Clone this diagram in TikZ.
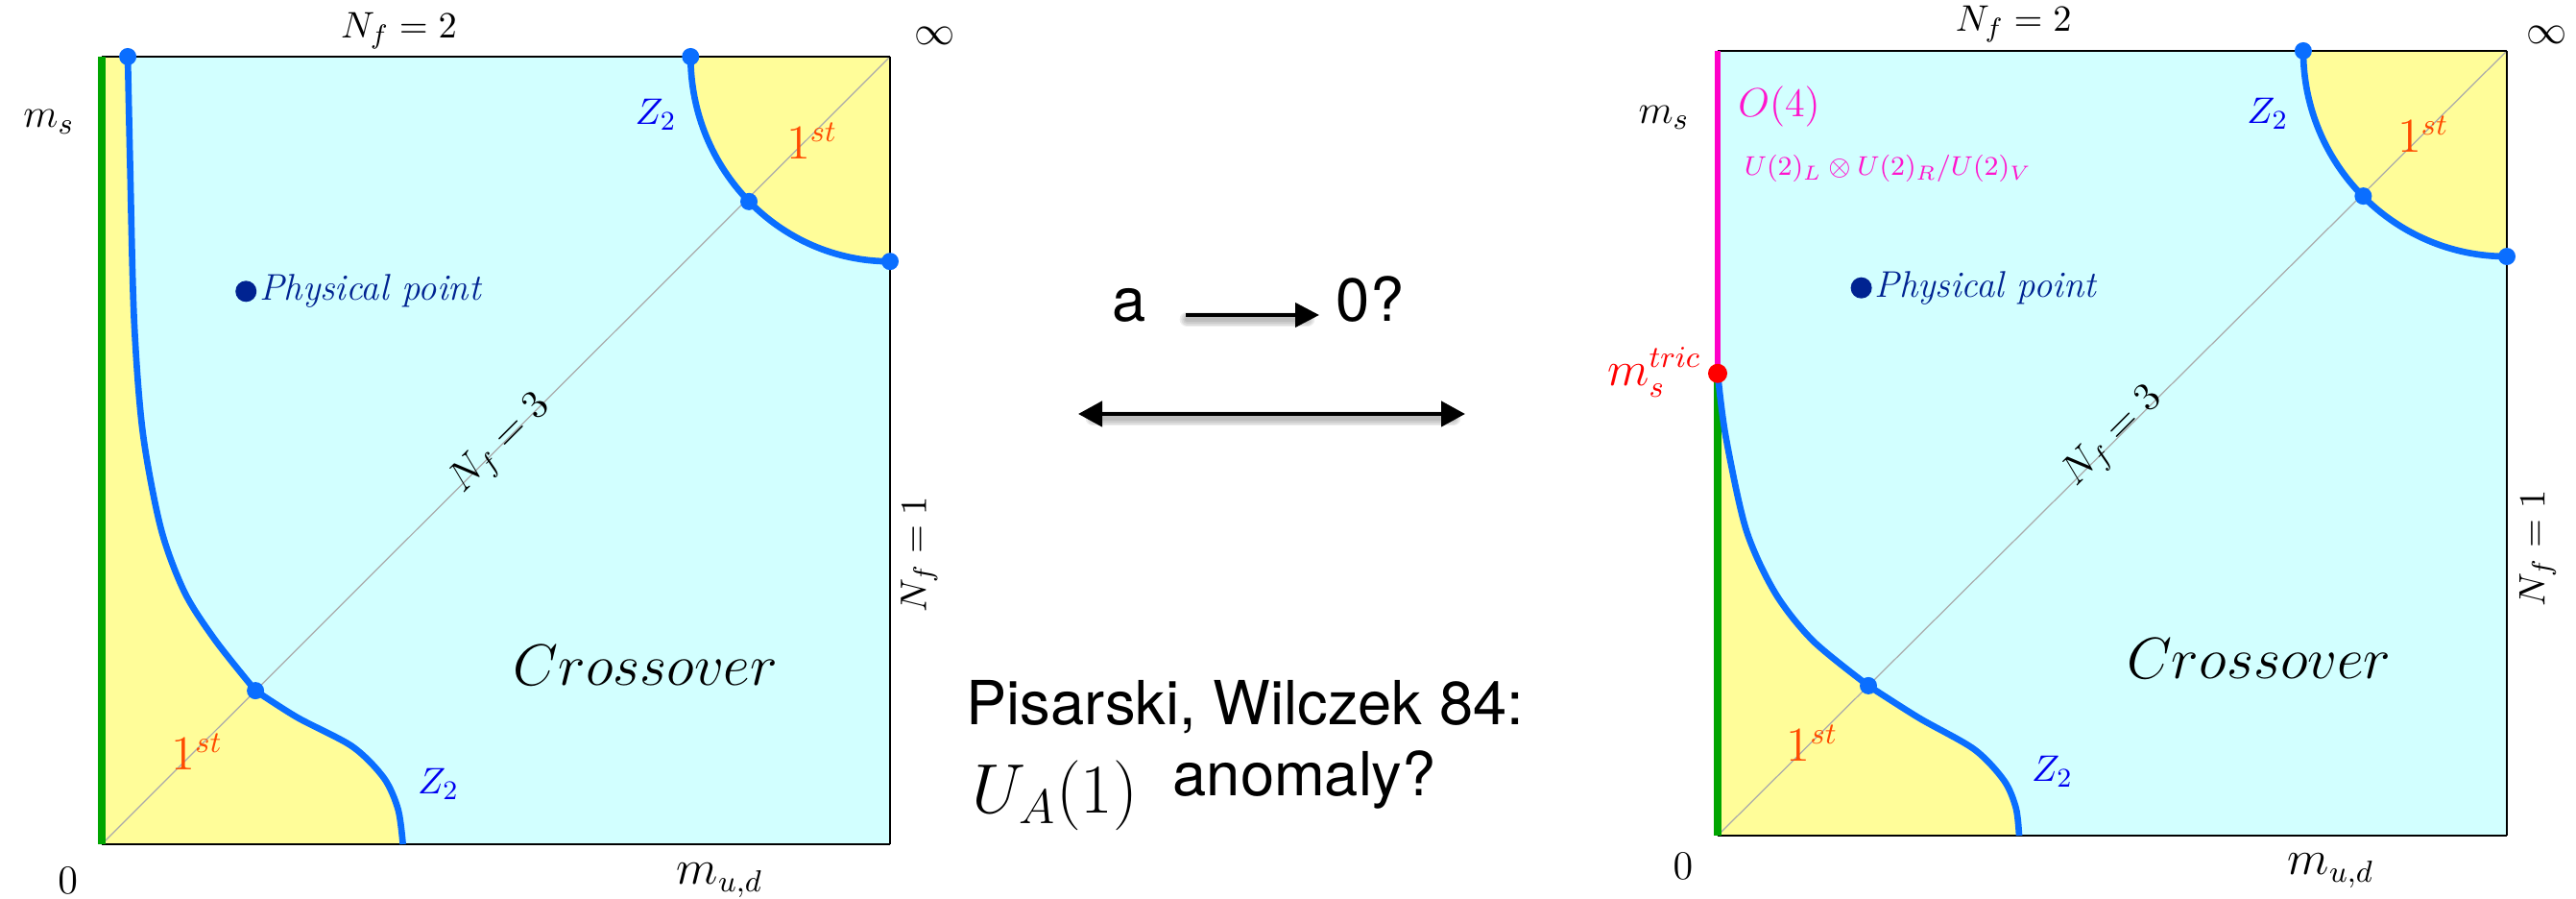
\documentclass[tikz,border=0pt]{standalone}
\usepackage{fontspec}
\newfontfamily\helv{TeX Gyre Heros}
\usetikzlibrary{arrows.meta}
\definecolor{cyanbg}{RGB}{210,255,255}
\definecolor{yel}{RGB}{255,253,153}
\definecolor{zblue}{RGB}{10,110,255}
\definecolor{grn}{RGB}{0,165,0}
\definecolor{mag}{RGB}{255,0,200}
\definecolor{magt}{RGB}{255,20,205}
\definecolor{navy}{RGB}{0,35,145}
\definecolor{orng}{RGB}{255,75,0}
\definecolor{ztext}{RGB}{0,0,240}
\definecolor{diagc}{RGB}{170,170,170}
\tikzset{
  curve/.style={zblue, line width=1.9pt},
  bdot/.style={circle, fill=zblue, inner sep=0pt, minimum size=0.18cm},
  pdot/.style={circle, fill=navy, inner sep=0pt, minimum size=0.22cm},
  rdot/.style={circle, fill=red, inner sep=0pt, minimum size=0.2cm},
  diagline/.style={diagc, line width=0.35pt},
  edgeline/.style={black, line width=0.7pt},
  redge/.style={black, line width=0.5pt},
  lab/.style={inner sep=0pt, font=\fontsize{11}{13}\selectfont},
  biglab/.style={inner sep=0pt, font=\fontsize{13}{15}\selectfont},
  mslab/.style={inner sep=0pt, font=\fontsize{13}{15}\selectfont},
  zlab/.style={inner sep=0pt, text=ztext, font=\fontsize{11}{13}\selectfont},
  firstlab/.style={inner sep=0pt, text=orng, font=\fontsize{13.5}{15}\selectfont},
  physlab/.style={inner sep=0pt, text=navy, anchor=west, font=\fontsize{11}{13}\selectfont\itshape},
  crosslab/.style={inner sep=0pt, font=\fontsize{16.5}{19}\selectfont},
  sanslab/.style={inner sep=0pt, font=\fontsize{18}{22}\selectfont\helv},
  arr/.style={black, line width=1.2pt, -{Triangle[length=0.25cm, width=0.25cm]}},
  darr/.style={black, line width=1.3pt, {Triangle[length=0.25cm, width=0.26cm]}-{Triangle[length=0.25cm, width=0.26cm]}},
  shadowarr/.style={black, opacity=0.07, line cap=round, transform canvas={shift={(0.015,-0.045)}}},
}
\begin{document}
\begin{tikzpicture}
\useasboundingbox (0,0) rectangle (26.83,9.36);

% ================= LEFT PANEL =================
\begin{scope}[shift={(1.06,0.57)}, x=0.821cm, y=0.82cm]
  \fill[cyanbg] (0,0) rectangle (10,10);
  \fill[yel] (0,0) -- (0,10)
    -- plot[smooth] coordinates {(0.33,10) (0.36,8.6) (0.41,6.66) (0.52,5.23) (0.75,4.01) (1.05,3.2) (1.44,2.59) (1.95,1.95)}
    -- plot[smooth] coordinates {(1.95,1.95) (2.48,1.61) (3.18,1.24) (3.58,0.84) (3.76,0.44) (3.82,0)}
    -- cycle;
  \fill[yel] (7.47,10) arc[start angle=180, end angle=270, x radius=2.53, y radius=2.6] -- (10,10) -- cycle;
  \coordinate (L-o) at (0,0);
  \coordinate (L-tl) at (0,10);
  \coordinate (L-tr) at (10,10);
  \coordinate (L-br) at (10,0);
  \draw[diagline] (L-o) -- (L-tr);
  \draw[edgeline] (L-tl) -- (L-tr);
  \draw[edgeline] (L-o) -- (L-br);
  \draw[redge] (L-br) -- (L-tr);
  \draw[grn, line width=2pt] (L-o) -- (L-tl);
  \draw[curve] plot[smooth] coordinates {(0.33,10) (0.36,8.6) (0.41,6.66) (0.52,5.23) (0.75,4.01) (1.05,3.2) (1.44,2.59) (1.95,1.95)};
  \draw[curve] plot[smooth] coordinates {(1.95,1.95) (2.48,1.61) (3.18,1.24) (3.58,0.84) (3.76,0.44) (3.82,0)};
  \draw[curve] (7.47,10) arc[start angle=180, end angle=270, x radius=2.53, y radius=2.6];
  \node[bdot] (L-d1) at (0.33,10) {};
  \node[bdot] (L-d2) at (1.95,1.95) {};
  \node[bdot] (L-d3) at (7.47,10) {};
  \node[bdot] (L-d4) at (8.21,8.16) {};
  \node[bdot] (L-d5) at (10,7.4) {};
  \node[pdot] (L-phys) at (1.83,7.02) {};
  \node[physlab] (L-physlab) at (1.99,7.02) {Physical point};
  \node[lab] (L-nf2) at (3.77,10.33) {$N_f=2$};
  \node[biglab] (L-inf) at (10.57,10.26) {$\infty$};
  \node[mslab] (L-ms) at (-0.67,9.17) {$m_s$};
  \node[zlab] (L-z2a) at (7.03,9.26) {$Z_2$};
  \node[firstlab] (L-1sta) at (9.01,8.93) {$1^{st}$};
  \node[lab, rotate=45, font=\fontsize{12}{14}\selectfont] (L-nf3) at (5.07,5.07) {$N_f=3$};
  \node[crosslab] (L-cross) at (6.9,2.27) {$Crossover$};
  \node[zlab] (L-z2b) at (4.27,0.76) {$Z_2$};
  \node[firstlab] (L-1stb) at (1.21,1.17) {$1^{st}$};
  \node[biglab] (L-zero) at (-0.43,-0.46) {$0$};
  \node[inner sep=0pt, font=\fontsize{13.5}{15}\selectfont] (L-mud) at (7.84,-0.46) {$m_{u,d}$};
  \node[lab, rotate=90] (L-nf1) at (10.37,3.68) {$N_f=1$};
\end{scope}

% ================= RIGHT PANEL =================
\begin{scope}[shift={(17.89,0.66)}, x=0.822cm, y=0.817cm]
  \fill[cyanbg] (0,0) rectangle (10,10);
  \fill[yel] (0,0) -- (0,5.89)
    -- plot[smooth] coordinates {(0,5.89) (0.1,5.1) (0.36,3.9) (0.73,3.09) (1.21,2.48) (1.91,1.91)}
    -- plot[smooth] coordinates {(1.91,1.91) (2.55,1.5) (3.25,1.1) (3.63,0.7) (3.78,0.35) (3.82,0)}
    -- cycle;
  \fill[yel] (7.42,10) arc[start angle=180, end angle=270, x radius=2.58, y radius=2.62] -- (10,10) -- cycle;
  \coordinate (R-o) at (0,0);
  \coordinate (R-tl) at (0,10);
  \coordinate (R-tr) at (10,10);
  \coordinate (R-br) at (10,0);
  \draw[diagline] (R-o) -- (R-tr);
  \draw[edgeline] (R-tl) -- (R-tr);
  \draw[edgeline] (R-o) -- (R-br);
  \draw[redge] (R-br) -- (R-tr);
  \coordinate (R-tricc) at (0,5.89);
  \draw[grn, line width=2pt] (R-o) -- (R-tricc);
  \draw[mag, line width=1.9pt] (R-tricc) -- (R-tl);
  \draw[curve] plot[smooth] coordinates {(0,5.89) (0.1,5.1) (0.36,3.9) (0.73,3.09) (1.21,2.48) (1.91,1.91)};
  \draw[curve] plot[smooth] coordinates {(1.91,1.91) (2.55,1.5) (3.25,1.1) (3.63,0.7) (3.78,0.35) (3.82,0)};
  \draw[curve] (7.42,10) arc[start angle=180, end angle=270, x radius=2.58, y radius=2.62];
  \node[rdot] (R-tric) at (R-tricc) {};
  \node[bdot] (R-d2) at (1.91,1.91) {};
  \node[bdot] (R-d3) at (7.42,10) {};
  \node[bdot] (R-d4) at (8.18,8.15) {};
  \node[bdot] (R-d5) at (10,7.38) {};
  \node[pdot] (R-phys) at (1.82,6.98) {};
  \node[physlab] (R-physlab) at (1.98,6.98) {Physical point};
  \node[lab] (R-nf2) at (3.75,10.34) {$N_f=2$};
  \node[biglab] (R-inf) at (10.51,10.2) {$\infty$};
  \node[mslab] (R-ms) at (-0.68,9.15) {$m_s$};
  \node[inner sep=0pt, text=magt, font=\fontsize{11.5}{14}\selectfont] (R-o4) at (0.78,9.29) {$O(4)$};
  \node[inner sep=0pt, text=magt, anchor=west, font=\fontsize{8.5}{10}\selectfont] (R-u2) at (0.33,8.5) {$U(2)_L\otimes U(2)_R/U(2)_V$};
  \node[inner sep=0pt, text=red, anchor=east, font=\fontsize{13.5}{15}\selectfont] (R-mtric) at (-0.2,5.9) {$m_s^{tric}$};
  \node[zlab] (R-z2a) at (6.97,9.2) {$Z_2$};
  \node[firstlab] (R-1sta) at (8.94,8.94) {$1^{st}$};
  \node[lab, rotate=45, font=\fontsize{12}{14}\selectfont] (R-nf3) at (5.02,5.07) {$N_f=3$};
  \node[crosslab] (R-cross) at (6.86,2.25) {$Crossover$};
  \node[zlab] (R-z2b) at (4.24,0.82) {$Z_2$};
  \node[firstlab] (R-1stb) at (1.2,1.18) {$1^{st}$};
  \node[biglab] (R-zero) at (-0.44,-0.39) {$0$};
  \node[inner sep=0pt, font=\fontsize{13.5}{15}\selectfont] (R-mud) at (7.77,-0.45) {$m_{u,d}$};
  \node[lab, rotate=90] (R-nf1) at (10.39,3.66) {$N_f=1$};
\end{scope}

% ================= MIDDLE =================
\node[sanslab, anchor=base] (ta) at (11.76,6.01) {a};
\node[sanslab, anchor=base] (tq) at (14.27,6.01) {0?};
\coordinate (s1) at (12.35,6.08);
\coordinate (s2) at (13.74,6.08);
\coordinate (s2b) at (13.60,6.08);
\foreach \w in {1.5,2.5,3.5,4.5} {\draw[shadowarr, line width=\w pt] (s1) -- (s2b);}
\draw[arr] (s1) -- (s2);
\coordinate (d1) at (11.23,5.05);
\coordinate (d2) at (15.26,5.05);
\coordinate (d1b) at (11.37,5.05);
\coordinate (d2b) at (15.12,5.05);
\foreach \w in {1.5,2.5,3.5,4.5} {\draw[shadowarr, line width=\w pt] (d1b) -- (d2b);}
\draw[darr] (d1) -- (d2);
\node[sanslab, anchor=base west] (pw) at (10.06,1.81) {Pisarski, Wilczek 84:};
\node[inner sep=0pt, anchor=base west, font=\fontsize{21}{25}\selectfont] (ua) at (10.12,0.89) {$U_A(1)$};
\node[sanslab, anchor=base west] (anom) at (12.21,1.07) {anomaly?};
\end{tikzpicture}
\end{document}
